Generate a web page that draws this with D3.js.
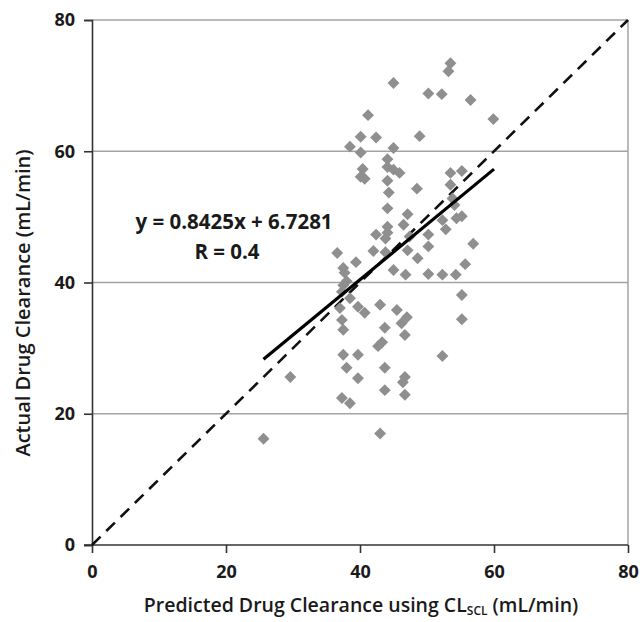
<!DOCTYPE html>
<html>
<head>
<meta charset="utf-8">
<script src="https://cdn.jsdelivr.net/npm/d3@7"></script>
<style>
  html, body { margin: 0; padding: 0; background: #fff; }
  svg { display: block; }
  text { font-family: "Open Sans", Lato, sans-serif; fill: #1a1a1a; }
</style>
</head>
<body>
<svg id="chart" width="642" height="622"></svg>
<script>
// Predicted (x) vs actual (y) clearance, mL/min
const predicted = [
  25.6, 29.6,
  36.6, 37.5, 37.7, 37.5, 37.3, 38.5, 39.7, 40.7, 37.0, 37.3, 37.5, 37.5, 39.7, 38.0, 39.7, 37.3, 38.5, 39.4, 38.0,
  38.5, 40.1, 41.2, 40.1, 40.4, 40.1, 40.7, 42.4,
  45.0, 45.0, 44.1, 44.1, 45.0, 45.9, 44.1, 44.3, 44.1, 42.4, 44.1, 44.1, 43.8, 42.0, 43.8, 45.0, 43.0, 43.7, 43.3, 42.7, 43.7, 43.7, 43.0, 45.5,
  47.0, 46.2, 46.7, 46.7, 46.4, 46.7, 46.5, 47.1, 47.1, 46.8, 47.4,
  48.5, 48.9, 48.6, 50.2, 50.2, 50.2, 50.2,
  52.2, 52.3, 52.8, 52.3, 52.3, 53.5, 53.2, 53.5, 53.5, 53.8, 54.4, 55.2, 55.2, 54.3, 55.2, 55.2, 55.7, 56.9, 56.5, 59.9, 54.1
];
const actual = [
  16.2, 25.6,
  44.5, 42.2, 41.5, 39.6, 38.6, 37.6, 36.3, 35.4, 36.1, 34.3, 32.8, 29.0, 29.0, 27.0, 25.4, 22.4, 21.6, 43.1, 40.2,
  60.7, 62.2, 65.5, 59.8, 57.3, 56.1, 55.8, 62.1,
  70.4, 60.5, 58.8, 57.6, 57.2, 56.7, 55.5, 53.7, 51.3, 47.3, 48.5, 47.6, 46.7, 44.8, 44.6, 41.9, 36.6, 33.1, 30.9, 30.3, 27.0, 23.6, 17.0, 35.8,
  34.7, 33.8, 32.0, 25.6, 24.8, 22.9, 48.8, 50.4, 44.9, 41.2, 47.0,
  54.3, 62.3, 43.7, 47.3, 45.5, 41.3, 68.8,
  68.7, 49.5, 48.1, 41.2, 28.8, 73.4, 72.2, 56.7, 54.9, 52.8, 49.8, 50.1, 57.0, 41.2, 38.1, 34.4, 42.8, 45.9, 67.8, 64.9, 51.8
];

// Linear fit reported on the chart
const fitSlope = 0.8425;
const fitIntercept = 6.7281;
const fitRange = [25.6, 60];
const fitLabel = "y = 0.8425x + 6.7281";
const rLabel = "R = 0.4";

const xTicks = [0, 20, 40, 60, 80];
const yTicks = [0, 20, 40, 60, 80];
const xTitle = "Predicted Drug Clearance using CL";
const xTitleSub = "SCL";
const xTitleTail = " (mL/min)";
const yTitle = "Actual Drug Clearance (mL/min)";

const svg = d3.select("#chart");
const margin = { left: 92, right: 14, top: 20, bottom: 77 };
const W = 642, H = 622;

const x = d3.scaleLinear().domain([0, 80]).range([margin.left, W - margin.right]);
const y = d3.scaleLinear().domain([0, 80]).range([H - margin.bottom, margin.top]);

// Horizontal gridlines (20..80)
svg.append("g").selectAll("line")
  .data(yTicks.filter(d => d > 0))
  .join("line")
  .attr("x1", x(0)).attr("x2", x(80))
  .attr("y1", d => y(d)).attr("y2", d => y(d))
  .attr("stroke", "#a3a3a3").attr("stroke-width", 1.5);

// Right border
svg.append("line")
  .attr("x1", x(80)).attr("x2", x(80))
  .attr("y1", y(0)).attr("y2", y(80))
  .attr("stroke", "#a3a3a3").attr("stroke-width", 1.5);

// Axes
const yAxis = d3.axisLeft(y).tickValues(yTicks).tickSize(8).tickPadding(9).tickFormat(d3.format("d"));
const xAxis = d3.axisBottom(x).tickValues(xTicks).tickSize(8).tickPadding(12).tickFormat(d3.format("d"));

const gy = svg.append("g").attr("transform", `translate(${x(0)},0)`).call(yAxis);
const gx = svg.append("g").attr("transform", `translate(0,${y(0)})`).call(xAxis);
[gy, gx].forEach(g => {
  g.select(".domain").attr("stroke", "#333").attr("stroke-width", 1.6);
  g.selectAll(".tick line").attr("stroke", "#333").attr("stroke-width", 1.6);
  g.selectAll(".tick text")
    .style("font-family", "'Open Sans', Lato, sans-serif")
    .style("font-size", "18px").style("font-weight", "bold").attr("fill", "#1a1a1a");
});
gx.select(".domain").attr("d", `M${x(0) - 8},0H${x(80)}`);

// Identity line
svg.append("line")
  .attr("x1", x(0)).attr("y1", y(0))
  .attr("x2", x(80)).attr("y2", y(80))
  .attr("stroke", "#111").attr("stroke-width", 2.6)
  .attr("stroke-dasharray", "12,8");

// Points as diamonds
const pts = predicted.map((p, i) => ({ p, a: actual[i] }));
svg.append("g").selectAll("path")
  .data(pts)
  .join("path")
  .attr("d", d3.symbol().type(d3.symbolDiamond2).size(90))
  .attr("transform", d => `translate(${x(d.p)},${y(d.a)})`)
  .attr("fill", "#8f8f8f");

// Fit line
svg.append("line")
  .attr("x1", x(fitRange[0])).attr("y1", y(fitSlope * fitRange[0] + fitIntercept))
  .attr("x2", x(fitRange[1])).attr("y2", y(fitSlope * fitRange[1] + fitIntercept))
  .attr("stroke", "#000").attr("stroke-width", 3.2);

// Fit annotation
svg.append("text").attr("x", 234).attr("y", 229).attr("text-anchor", "middle")
  .style("font-size", "20.5px").style("font-weight", "bold").text(fitLabel);
svg.append("text").attr("x", 227).attr("y", 259).attr("text-anchor", "middle")
  .style("font-size", "20.5px").style("font-weight", "bold").text(rLabel);

// Axis titles
svg.append("text")
  .attr("transform", `translate(30,303) rotate(-90)`)
  .attr("text-anchor", "middle")
  .style("font-size", "20px").style("font-weight", "600").text(yTitle);

const xt = svg.append("text").attr("x", 361).attr("y", 612).attr("text-anchor", "middle")
  .style("font-size", "19.5px").style("font-weight", "600");
xt.append("tspan").text(xTitle);
xt.append("tspan").attr("dy", 3).style("font-size", "12px").text(xTitleSub);
xt.append("tspan").attr("dy", -3).text(xTitleTail);
</script>
</body>
</html>
